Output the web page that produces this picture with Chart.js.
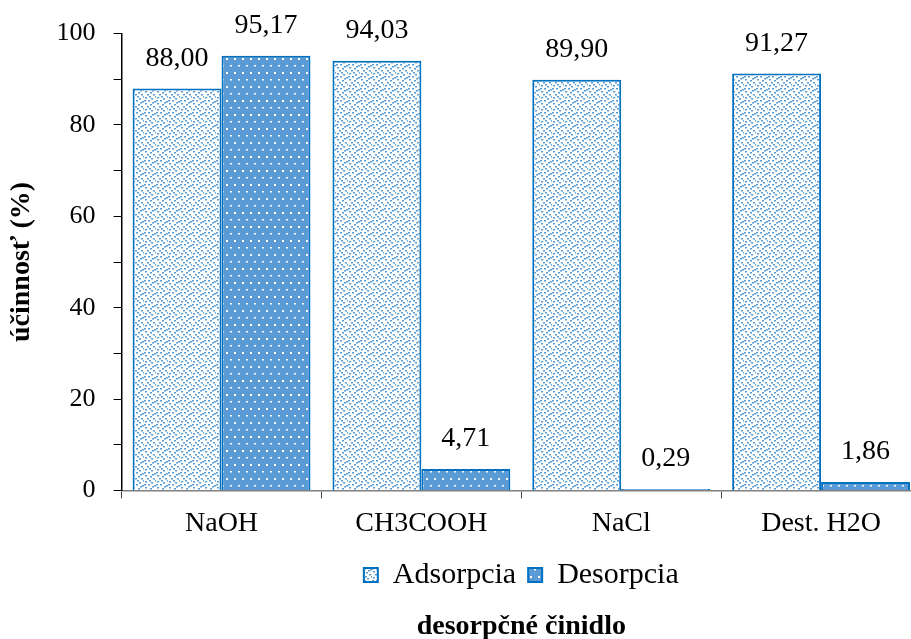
<!DOCTYPE html>
<html>
<head>
<meta charset="utf-8">
<script src="https://cdn.jsdelivr.net/npm/chart.js@4.4.0/dist/chart.umd.min.js"></script>
<style>
  html, body { margin: 0; padding: 0; background: #fff; }
  #wrap { width: 911px; height: 639px; overflow: hidden; }
</style>
</head>
<body>
<div id="wrap"><canvas id="chart" width="921" height="639"></canvas></div>
<script>
const categories = ['NaOH', 'CH3COOH', 'NaCl', 'Dest. H2O'];
const adsorpcia = [88.00, 94.03, 89.90, 91.27];
const desorpcia = [95.17, 4.71, 0.29, 1.86];
const seriesNames = ['Adsorpcia', 'Desorpcia'];
const yTicks = [0, 20, 40, 60, 80, 100];

const FONT = '"Liberation Serif", "Times New Roman", serif';
const SIZE = 28;
const EDGE = '#0070C0';

// light dotted fill
function dotsPattern() {
    const c = document.createElement('canvas');
    c.width = 12; c.height = 12;
    const g = c.getContext('2d');
    g.fillStyle = '#fff';
    g.fillRect(0, 0, 12, 12);
    g.fillStyle = '#5B9BD5';
    const pts = [[1, 1], [7, 2], [4, 4], [10, 5], [1, 7], [6, 8], [9, 10], [3, 10], [11, 0], [5, 0], [8, 6], [0, 4]];
    pts.forEach(p => g.fillRect(p[0], p[1], 2, 1.5));
    return g.createPattern(c, 'repeat');
}

// solid blue with white dots
function solidDotsPattern() {
    const c = document.createElement('canvas');
    c.width = 8; c.height = 14;
    const g = c.getContext('2d');
    g.fillStyle = '#5B9BD5';
    g.fillRect(0, 0, 8, 14);
    g.fillStyle = '#fff';
    g.fillRect(2, 2, 2, 2);
    g.fillRect(6, 9, 2, 1.5);
    return g.createPattern(c, 'repeat');
}

const valueLabels = {
    id: 'valueLabels',
    afterDatasetsDraw(chart) {
        const ctx = chart.ctx;
        ctx.save();
        ctx.font = SIZE + 'px ' + FONT;
        ctx.fillStyle = '#000';
        ctx.textAlign = 'center';
        ctx.textBaseline = 'middle';
        chart.data.datasets.forEach((ds, i) => {
            chart.getDatasetMeta(i).data.forEach((bar, j) => {
                const txt = ds.data[j].toFixed(2).replace('.', ',');
                ctx.fillText(txt, bar.x, bar.y - 30);
            });
        });
        ctx.restore();
    }
};

new Chart(document.getElementById('chart'), {
    type: 'bar',
    data: {
        labels: categories,
        datasets: [
            {
                label: seriesNames[0],
                data: adsorpcia,
                backgroundColor: dotsPattern(),
                borderColor: EDGE,
                borderWidth: 2,
                categoryPercentage: 0.89,
                barPercentage: 1.0
            },
            {
                label: seriesNames[1],
                data: desorpcia,
                backgroundColor: solidDotsPattern(),
                borderColor: EDGE,
                borderWidth: 2,
                categoryPercentage: 0.89,
                barPercentage: 1.0
            }
        ]
    },
    options: {
        responsive: false,
        animation: false,
        layout: { padding: { top: 25, right: 0, left: 5, bottom: -2 } },
        plugins: {
            tooltip: { enabled: false },
            legend: {
                position: 'bottom',
                fullSize: false,
                labels: {
                    color: '#000',
                    font: { family: FONT, size: 30 },
                    boxWidth: 14,
                    boxHeight: 14,
                    padding: 12
                }
            },
            title: {
                display: true,
                position: 'bottom',
                fullSize: false,
                text: 'desorpčné činidlo',
                color: '#000',
                font: { family: FONT, size: SIZE, weight: 'bold', lineHeight: 1 },
                padding: { top: 13, bottom: 0 }
            }
        },
        scales: {
            x: {
                grid: {
                    offset: true,
                    drawOnChartArea: false,
                    drawTicks: true,
                    tickLength: 8,
                    color: '#404040'
                },
                border: { color: '#808080', width: 1.5 },
                ticks: {
                    color: '#000',
                    font: { family: FONT, size: SIZE },
                    padding: 8
                }
            },
            y: {
                min: 0,
                max: 100,
                afterBuildTicks(axis) {
                    const t = [];
                    for (let v = 0; v <= 100; v += 10) t.push({ value: v });
                    axis.ticks = t;
                },
                grid: {
                    drawOnChartArea: false,
                    drawTicks: true,
                    tickLength: 8,
                    color: '#000'
                },
                border: { color: '#000', width: 1.5 },
                ticks: {
                    color: '#000',
                    font: { family: FONT, size: 26 },
                    padding: 18,
                    autoSkip: false,
                    callback: v => yTicks.includes(v) ? String(v) : ''
                },
                title: {
                    display: true,
                    text: 'účinnosť (%)',
                    color: '#000',
                    font: { family: FONT, size: SIZE, weight: 'bold' },
                    padding: { top: 0, bottom: 0 }
                }
            }
        }
    },
    plugins: [valueLabels]
});
</script>
</body>
</html>
